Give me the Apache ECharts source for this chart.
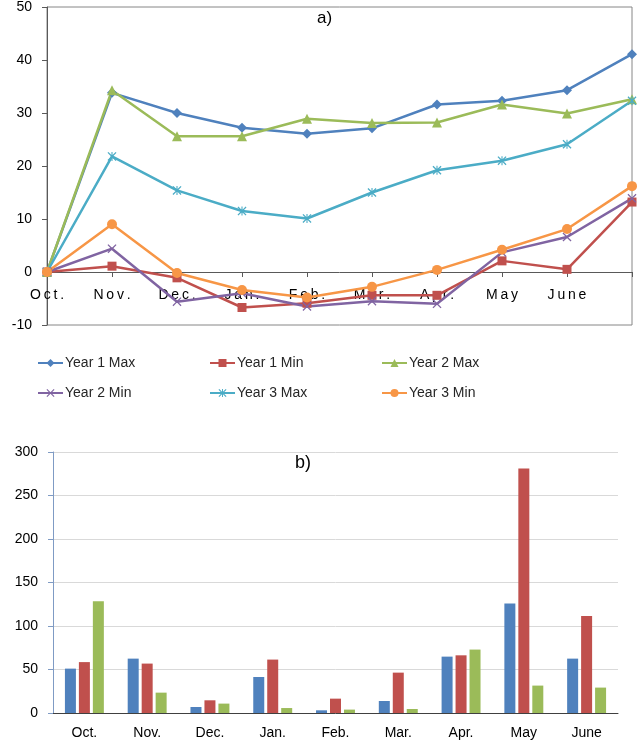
<!DOCTYPE html>
<html>
<head>
<meta charset="utf-8">
<script src="https://cdn.jsdelivr.net/npm/echarts@6/dist/echarts.min.js"></script>
<style>
  html, body { margin: 0; padding: 0; background: #fff; }
  #chart { width: 641px; height: 756px; }
</style>
</head>
<body>
<div id="chart"></div>
<script>
// a) temperatures
const months = ['Oct.', 'Nov.', 'Dec.', 'Jan.', 'Feb.', 'Mar.', 'Apr.', 'May', 'June', ''];
const year1Max = [0, 33.8, 30.0, 27.2, 26.1, 27.1, 31.6, 32.3, 34.3, 41.1];
const year1Min = [0, 1.1, -1.1, -6.7, -5.9, -4.4, -4.4, 2.1, 0.5, 13.2];
const year2Max = [0, 34.3, 25.6, 25.6, 28.9, 28.1, 28.2, 31.6, 29.9, 32.6];
const year2Min = [0, 4.4, -5.6, -4.0, -6.5, -5.5, -6.0, 3.7, 6.6, 13.9];
const year3Max = [0, 21.8, 15.4, 11.5, 10.1, 15.0, 19.2, 21.0, 24.1, 32.3];
const year3Min = [0, 9.0, -0.2, -3.4, -4.8, -2.8, 0.4, 4.2, 8.1, 16.2];

// b) rainfall
const barMonths = ['Oct.', 'Nov.', 'Dec.', 'Jan.', 'Feb.', 'Mar.', 'Apr.', 'May', 'June'];
const rain1 = [51, 62.5, 6.9, 41.4, 3.1, 13.8, 64.8, 126, 62.5];
const rain2 = [58.5, 56.8, 14.6, 61.4, 16.5, 46.4, 66.3, 281, 111.5];
const rain3 = [128.4, 23.4, 10.8, 5.7, 3.9, 4.6, 72.9, 31.5, 29.2];

const FONT = '"Liberation Sans", Arial, sans-serif';

// x and asterisk markers drawn as filled shapes
const xMark = 'path://M0,1L1,0L5,4L9,0L10,1L6,5L10,9L9,10L5,6L1,10L0,9L4,5Z';
const starMark = 'path://M0,1L1,0L5,4L9,0L10,1L6,5L10,9L9,10L5,6L1,10L0,9L4,5Z' +
  'M4.4,0L5.6,0L5.6,10L4.4,10Z';

function spaced(s) {
  return s.split('').join('\u2009');
}

function lineSeries(name, data, color, symbol, size) {
  return {
    name: name,
    type: 'line',
    xAxisIndex: 0,
    yAxisIndex: 0,
    data: data,
    symbol: symbol,
    symbolSize: size,
    showAllSymbol: true,
    lineStyle: { color: color, width: 2.5 },
    itemStyle: { color: color },
    emphasis: { disabled: true }
  };
}

function barSeries(data, color) {
  return {
    type: 'bar',
    xAxisIndex: 1,
    yAxisIndex: 1,
    data: data,
    barWidth: 11,
    barGap: '27%',
    itemStyle: { color: color },
    emphasis: { disabled: true }
  };
}

function legendCol(left, names) {
  return {
    orient: 'vertical',
    left: left,
    top: 351,
    itemGap: 16,
    itemWidth: 25,
    itemHeight: 10,
    data: names,
    textStyle: { fontFamily: FONT, fontSize: 14, color: '#262626', padding: [0, 0, 0, -3] },
    selectedMode: false
  };
}

const chart = echarts.init(document.getElementById('chart'), null, { renderer: 'canvas' });

chart.setOption({
  animation: false,
  title: [
    { text: 'a)', left: 312, top: 5, textStyle: { fontFamily: FONT, fontSize: 17, fontWeight: 'normal', color: '#000' } },
    { text: 'b)', left: 290, top: 449, textStyle: { fontFamily: FONT, fontSize: 18, fontWeight: 'normal', color: '#000' } }
  ],
  legend: [
    legendCol(32, ['Year 1 Max', 'Year 2 Min']),
    legendCol(204, ['Year 1 Min', 'Year 3 Max']),
    legendCol(376, ['Year 2 Max', 'Year 3 Min'])
  ],
  grid: [
    { left: 47, right: 9, top: 7, height: 318, show: true, borderColor: '#868686', borderWidth: 1, backgroundColor: 'transparent' },
    { left: 53, right: 23, top: 452, height: 261 }
  ],
  xAxis: [
    {
      gridIndex: 0,
      type: 'category',
      data: months,
      boundaryGap: false,
      // axis sits on the zero line: pull it up from the grid bottom
      offset: -53,
      axisLine: { onZero: false, lineStyle: { color: '#595959', width: 1 } },
      axisTick: { show: true, length: 5, interval: 0, lineStyle: { color: '#595959' } },
      axisLabel: {
        interval: 0, margin: 16, fontFamily: FONT, fontSize: 14, color: '#000',
        formatter: function (v) { return spaced(v); }
      },
      splitLine: { show: false }
    },
    {
      gridIndex: 1,
      type: 'category',
      data: barMonths,
      axisLine: { lineStyle: { color: '#404040', width: 1 } },
      axisTick: { show: false },
      axisLabel: { interval: 0, margin: 13, fontFamily: FONT, fontSize: 14, color: '#000' }
    }
  ],
  yAxis: [
    {
      gridIndex: 0,
      type: 'value',
      min: -10,
      max: 50,
      interval: 10,
      axisLine: { show: true, lineStyle: { color: '#595959', width: 1 } },
      axisTick: { show: true, length: 5, lineStyle: { color: '#595959' } },
      axisLabel: { margin: 15, fontFamily: FONT, fontSize: 14, color: '#000' },
      splitLine: { show: false }
    },
    {
      gridIndex: 1,
      type: 'value',
      min: 0,
      max: 300,
      interval: 50,
      axisLine: { show: true, lineStyle: { color: '#7F9BC4', width: 1 } },
      axisTick: { show: true, length: 5, lineStyle: { color: '#7F9BC4' } },
      axisLabel: { margin: 15, fontFamily: FONT, fontSize: 14, color: '#000' },
      splitLine: { show: true, lineStyle: { color: '#D9D9D9', width: 1 } }
    }
  ],
  series: [
    lineSeries('Year 1 Max', year1Max, '#4F81BD', 'diamond', 10),
    lineSeries('Year 1 Min', year1Min, '#C0504D', 'rect', 9),
    lineSeries('Year 2 Max', year2Max, '#9BBB59', 'triangle', 10),
    lineSeries('Year 2 Min', year2Min, '#8064A2', xMark, 9),
    lineSeries('Year 3 Max', year3Max, '#4BACC6', starMark, 9),
    lineSeries('Year 3 Min', year3Min, '#F79646', 'circle', 10),
    barSeries(rain1, '#4F81BD'),
    barSeries(rain2, '#C0504D'),
    barSeries(rain3, '#9BBB59')
  ]
});
</script>
</body>
</html>
